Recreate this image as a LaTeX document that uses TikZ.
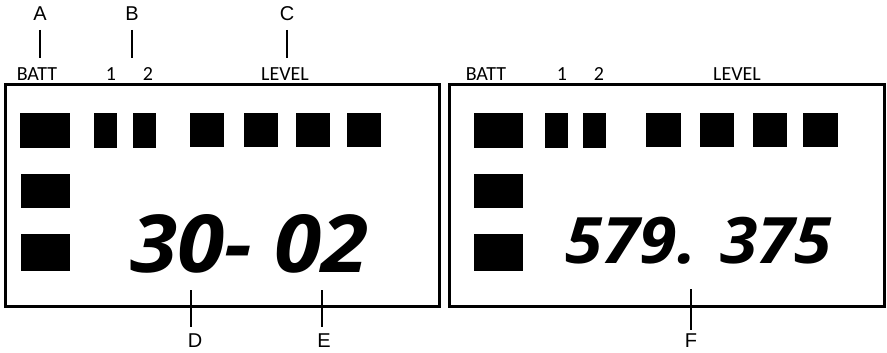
\documentclass[tikz,border=0pt]{standalone}
\usepackage{fontspec}
\setmainfont{Carlito}
\newfontfamily\bigfont{Open Sans}
\newfontfamily\letterfont{Liberation Sans}
\begin{document}
\begin{tikzpicture}[x=1pt,y=-1pt,
  seg/.style={fill=black},
  frame/.style={draw=black,line width=3pt},
  lab/.style={font=\fontsize{20}{20}\selectfont,inner sep=0pt},
  letter/.style={font=\letterfont\fontsize{20}{20}\selectfont,inner sep=0pt},
  lead/.style={line width=1.3pt},
  digits/.style={inner sep=0pt}]
\useasboundingbox (0,0) rectangle (887,353);
% frames
\draw[frame] (5,85) rectangle (439,306);
\draw[frame] (449,85) rectangle (884,306);
% left panel segments
\fill[seg] (20,113) rectangle (70,148);
\fill[seg] (94,113) rectangle (117,148);
\fill[seg] (133,113) rectangle (156,148);
\fill[seg] (190,113) rectangle (224,147);
\fill[seg] (244,113) rectangle (278,147);
\fill[seg] (296,113) rectangle (330,147);
\fill[seg] (347,113) rectangle (381,147);
\fill[seg] (21,174) rectangle (70,208);
\fill[seg] (21,234) rectangle (70,271);
% right panel segments
\fill[seg] (474,113) rectangle (523,148);
\fill[seg] (545,113) rectangle (568,148);
\fill[seg] (583,113) rectangle (606,148);
\fill[seg] (646,113) rectangle (681,147);
\fill[seg] (700,113) rectangle (734,147);
\fill[seg] (753,113) rectangle (787,147);
\fill[seg] (803,113) rectangle (838,147);
\fill[seg] (474,174) rectangle (523,208);
\fill[seg] (474,234) rectangle (523,271);
% labels left
\node[lab] (battL) at (37,74) {BATT};
\node[lab] (oneL) at (111,74) {1};
\node[lab] (twoL) at (148,74) {2};
\node[lab] (levL) at (285,74) {LEVEL};
% labels right
\node[lab] (battR) at (486,74) {BATT};
\node[lab] (oneR) at (562,74) {1};
\node[lab] (twoR) at (599,74) {2};
\node[lab] (levR) at (737,74) {LEVEL};
% big digits
\node[digits,anchor=base west,xscale=1.07] (numL) at (130,272) {\bigfont\bfseries\itshape\fontsize{80}{80}\selectfont 30- 02};
\node[digits,anchor=base west,xscale=1.06] (numR) at (565,263) {\bigfont\bfseries\itshape\fontsize{64}{64}\selectfont 579. 375};
% callout letters
\node[letter] (A) at (40,14) {A};
\node[letter] (B) at (132,14) {B};
\node[letter] (C) at (287,14) {C};
\node[letter] (D) at (195,341) {D};
\node[letter] (E) at (324,341) {E};
\node[letter] (F) at (691,341) {F};
\coordinate (a1) at (40,30); \coordinate (a2) at (40,58);
\coordinate (b1) at (132,30); \coordinate (b2) at (132,58);
\coordinate (c1) at (287,30); \coordinate (c2) at (287,58);
\coordinate (d1) at (191,290); \coordinate (d2) at (191,327);
\coordinate (e1) at (322,290); \coordinate (e2) at (322,327);
\coordinate (f1) at (691,289); \coordinate (f2) at (691,330);
\draw[lead] (a1) -- (a2);
\draw[lead] (b1) -- (b2);
\draw[lead] (c1) -- (c2);
\draw[lead] (d1) -- (d2);
\draw[lead] (e1) -- (e2);
\draw[lead] (f1) -- (f2);
\end{tikzpicture}
\end{document}
